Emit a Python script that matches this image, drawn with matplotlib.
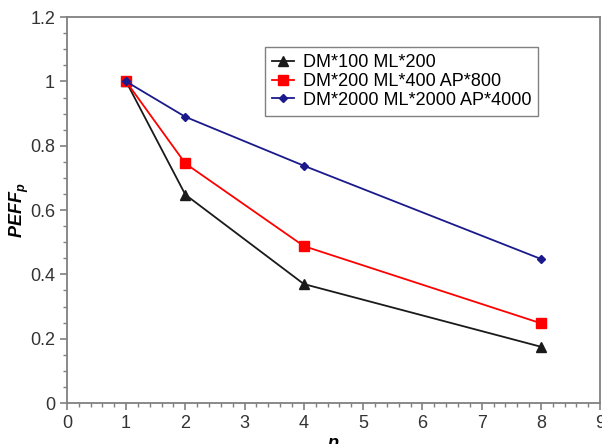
import matplotlib
matplotlib.use('Agg')
import matplotlib.pyplot as plt
from matplotlib.ticker import MultipleLocator

plt.rcParams['font.family'] = ['Liberation Sans', 'DejaVu Sans']
plt.rcParams['mathtext.fontset'] = 'custom'
plt.rcParams['mathtext.it'] = 'Liberation Sans:bold:italic'
plt.rcParams['mathtext.rm'] = 'Liberation Sans:bold:italic'

# данные
p = [1, 2, 4, 8]
black_vals = [1.0, 0.648, 0.37, 0.175]
red_vals = [1.0, 0.745, 0.488, 0.248]
blue_vals = [1.0, 0.89, 0.738, 0.448]
labels = ['DM*100 ML*200', 'DM*200 ML*400 AP*800', 'DM*2000 ML*2000 AP*4000']

fig = plt.figure(figsize=(6.02, 4.44), dpi=100)
ax = fig.add_axes([0.111, 0.0923, 0.886, 0.869])

ax.plot(p, black_vals, color='#1a1a1a', lw=1.3, marker='^', ms=7, label=labels[0])
ax.plot(p, red_vals, color='red', lw=1.3, marker='s', ms=7.5, label=labels[1])
ax.plot(p, blue_vals, color='#1a1a8c', lw=1.3, marker='D', ms=4.5, label=labels[2])

ax.set_xlim(0, 9)
ax.set_ylim(0, 1.2)
ax.xaxis.set_major_locator(MultipleLocator(1))
ax.xaxis.set_minor_locator(MultipleLocator(0.2))
ax.yaxis.set_minor_locator(MultipleLocator(0.05))
ax.set_yticks([0, 0.2, 0.4, 0.6, 0.8, 1.0, 1.2])
ax.set_yticklabels(['0', '0.2', '0.4', '0.6', '0.8', '1', '1.2'])

# оси серые
for s in ax.spines.values():
    s.set_color('#808080')
    s.set_linewidth(1.3)
ax.tick_params(which='both', direction='out', colors='#808080', labelcolor='#333333', labelsize=13)
ax.tick_params(which='major', length=5, width=1.2)
ax.tick_params(which='minor', length=3, width=1.0)

ax.set_ylabel(r'$PEFF_p$', fontsize=13)
ax.yaxis.set_label_coords(-0.068, 0.5)
ax.set_xlabel(r'$p$', fontsize=13)
ax.xaxis.set_label_coords(0.5, -0.085)

leg = ax.legend(loc='upper left', bbox_to_anchor=(0.371, 0.923), borderaxespad=0,
                fontsize=13, handlelength=1.2, handletextpad=0.5, labelspacing=0.1,
                fancybox=False, edgecolor='#808080', framealpha=1, borderpad=0.4)
leg.get_frame().set_linewidth(1.0)

fig.savefig('out.png', dpi=100)
